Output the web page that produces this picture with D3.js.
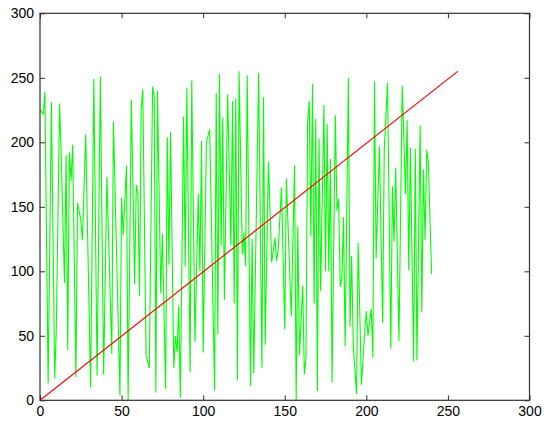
<!DOCTYPE html>
<html>
<head>
<meta charset="utf-8">
<script src="https://cdn.jsdelivr.net/npm/d3@7"></script>
<style>
  html, body { margin: 0; padding: 0; background: #fff; }
  svg { display: block; }
  .tick text { font-family: "Liberation Sans", Arial, sans-serif; font-size: 14px; fill: #000; }
</style>
</head>
<body>
<svg id="chart" width="550" height="430"></svg>
<script>
// ---- data ----
const sampleX = [0,2,3,5,7,9,10,12,13,15,16,17,18,19,20,22,23,25,26,28,31,33,35,37,39,41,44,45,49,50,51,53,54,56,58,59,60,61,62,63,65,67,69,70,71,72,74,75,77,78,79,80,82,83,84,85,86,88,89,90,92,93,95,97,98,99,100,102,104,107,108,109,110,111,112,113,115,117,118,119,120,121,122,124,125,126,127,129,130,131,134,136,137,138,140,142,144,145,146,148,150,151,154,156,157,158,159,161,162,163,164,165,166,167,168,169,170,171,172,174,175,176,177,178,179,181,182,183,184,185,186,187,189,190,191,192,194,195,197,199,200,201,203,204,205,206,208,210,211,213,215,216,217,218,220,222,224,225,226,227,229,230,231,233,234,235,236,237,238,240];
const sampleY = [225,222,239,13,231,17,55,230,190,91,190,39,192,170,198,18,153,140,124,206,10,249,19,251,20,173,36,216,4,157,128,182,0,233,90,167,160,81,225,241,35,25,243,235,6,240,83,129,9,204,105,208,25,50,37,73,2,220,104,242,22,248,45,160,100,201,37,200,210,8,238,51,253,120,219,78,237,120,232,75,234,16,255,113,130,104,252,11,125,21,254,25,235,43,185,107,126,108,117,165,55,172,65,182,0,135,35,89,20,33,215,232,127,245,75,218,7,203,85,229,100,214,100,187,14,221,147,156,88,95,142,42,250,57,112,42,5,122,12,53,69,50,71,33,247,110,197,60,195,246,40,166,123,180,46,244,160,217,101,196,30,195,31,213,68,179,124,194,185,98];
const refX = [0, 256];
const refY = [0, 255];
const xTicks = [0, 50, 100, 150, 200, 250, 300];
const yTicks = [0, 50, 100, 150, 200, 250, 300];

// ---- layout ----
const svg = d3.select("#chart");
const L = 40, R = 529.5, T = 13.3, B = 400.3;
const x = d3.scaleLinear().domain([0, 300]).range([L, R]);
const y = d3.scaleLinear().domain([0, 300]).range([B, T]);

svg.append("defs").append("clipPath").attr("id", "clip")
  .append("rect").attr("x", L).attr("y", T).attr("width", R - L).attr("height", B - T);

const g = svg.append("g").attr("clip-path", "url(#clip)");

const green = sampleX.map((d, i) => [d, sampleY[i]]);
const red = refX.map((d, i) => [d, refY[i]]);
const line = d3.line().x(d => x(d[0])).y(d => y(d[1]));

g.append("path").datum(green).attr("d", line)
  .attr("fill", "none").attr("stroke", "#00ff00").attr("stroke-width", 1.1);
g.append("path").datum(red).attr("d", line)
  .attr("fill", "none").attr("stroke", "#ff0000").attr("stroke-width", 1.2);

// ---- axes ----
const axisColor = "#303030";
function styleAxis(sel) {
  sel.selectAll(".domain").remove();
  sel.selectAll(".tick line").attr("stroke", axisColor);
}
svg.append("g").attr("transform", `translate(0,${B})`)
  .call(d3.axisBottom(x).tickValues(xTicks).tickSizeInner(-5).tickSizeOuter(0).tickPadding(6))
  .call(styleAxis);
svg.append("g").attr("transform", `translate(${L},0)`)
  .call(d3.axisLeft(y).tickValues(yTicks).tickSizeInner(-5).tickSizeOuter(0).tickPadding(6))
  .call(styleAxis);
svg.append("g").attr("transform", `translate(0,${T})`)
  .call(d3.axisTop(x).tickValues(xTicks).tickSizeInner(-5).tickSizeOuter(0).tickFormat(""))
  .call(styleAxis);
svg.append("g").attr("transform", `translate(${R},0)`)
  .call(d3.axisRight(y).tickValues(yTicks).tickSizeInner(-5).tickSizeOuter(0).tickFormat(""))
  .call(styleAxis);

svg.selectAll(".tick text").attr("font-family", null).attr("font-size", null);

svg.append("rect").attr("x", L).attr("y", T).attr("width", R - L).attr("height", B - T)
  .attr("fill", "none").attr("stroke", axisColor).attr("stroke-width", 1.2);
</script>
</body>
</html>
